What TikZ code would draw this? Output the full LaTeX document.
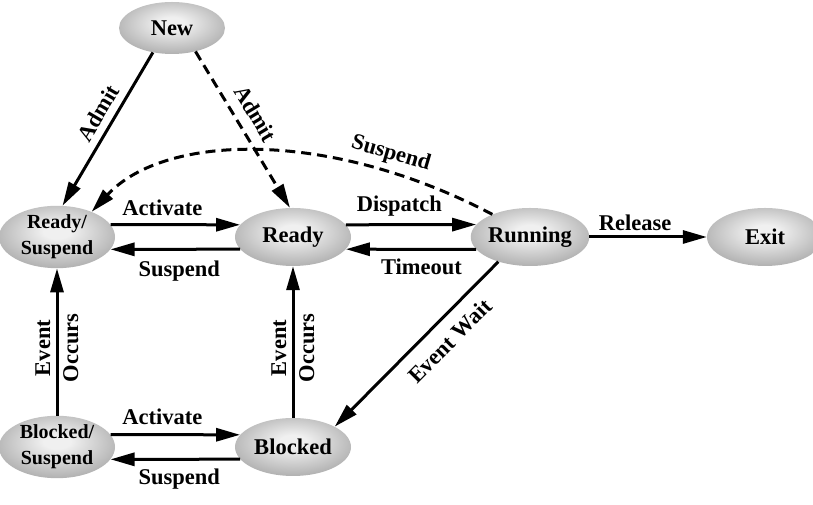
\documentclass[tikz,border=0pt]{standalone}
\usepackage{fontspec}
\setmainfont{Liberation Serif}
\usetikzlibrary{shapes.geometric,arrows.meta}
\definecolor{nodeedge}{gray}{0.45}
\definecolor{nodecenter}{gray}{0.94}
\pgfdeclareradialshading{nodeshade}{\pgfpoint{0bp}{5bp}}{color(0bp)=(nodecenter); color(6bp)=(nodecenter); color(50bp)=(nodeedge); color(75bp)=(nodeedge)}
\begin{document}
\begin{tikzpicture}[x=1pt,y=1pt,
  state/.style={ellipse, shading=nodeshade, minimum width=116pt, minimum height=58pt, inner sep=0pt, align=center, font=\bfseries\fontsize{22.5}{26}\selectfont},
  state2/.style={state, font=\bfseries\fontsize{20}{26}\selectfont},
  arr/.style={line width=3pt, -{Triangle[length=24pt,width=13pt]}},
  dasharr/.style={arr, dash pattern=on 10pt off 6pt},
  lbl/.style={font=\bfseries\fontsize{22.5}{26}\selectfont, inner sep=1pt},
  vlbl/.style={font=\bfseries\fontsize{22.5}{28}\selectfont, inner sep=0pt, align=center, rotate=90}
]
\useasboundingbox (0,0) rectangle (813,505);
\node[state, minimum width=106pt, minimum height=52pt] (new) at (172,477) {New};
\node[state2] (rs) at (57,268) {Ready/\\Suspend};
\node[state] (ready) at (293,268) {Ready};
\node[state] (run) at (530,268) {Running};
\node[state] (exit) at (765,268) {Exit};
\node[state2] (bs) at (57,58) {Blocked/\\Suspend};
\node[state] (blk) at (293,58) {Blocked};

\draw[arr] (new.232) -- node[lbl, sloped, above=6pt, pos=0.45] {Admit} (rs.80);
\draw[dasharr] (new.315) -- node[lbl, sloped, above=9pt, pos=0.46] {Admit} (ready.96);
\draw[dasharr] (run.149) .. controls (330,376) and (165,372) .. (rs.36) node[lbl, sloped, above=5pt, pos=0.22] {Suspend};

\draw[arr] (rs.13) -- node[lbl, above=6pt, pos=0.4] {Activate} (ready.167);
\draw[arr] (ready.193) -- node[lbl, below=9pt, pos=0.47] {Suspend} (rs.347);
\draw[arr] (ready.13) -- node[lbl, above=6pt, pos=0.41] {Dispatch} (run.167);
\draw[arr] (run.193) -- node[lbl, below=7pt, pos=0.42] {Timeout} (ready.347);
\draw[arr] (run.east) -- node[lbl, above=4pt, pos=0.39] {Release} (exit.west);

\draw[arr] (bs.north) -- node[vlbl, pos=0.46] {Event\\Occurs} (rs.south);
\draw[arr] (blk.north) -- node[vlbl, pos=0.46] {Event\\Occurs} (ready.south);
\draw[arr] (run.218) -- node[lbl, sloped, below=11pt, pos=0.39] {Event Wait} (blk.26);

\draw[arr] (bs.13) -- node[lbl, above=7pt, pos=0.4] {Activate} (blk.167);
\draw[arr] (blk.193) -- node[lbl, below=7pt, pos=0.47] {Suspend} (bs.347);
\end{tikzpicture}
\end{document}
